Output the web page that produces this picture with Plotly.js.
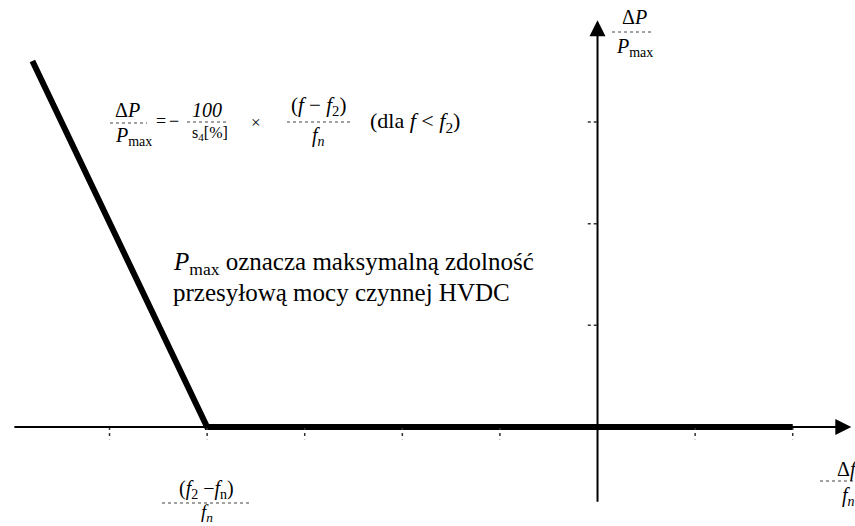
<!DOCTYPE html>
<html>
<head>
<meta charset="utf-8">
<script src="https://cdn.plot.ly/plotly-3.0.1.min.js"></script>
<style>
  html, body { margin: 0; padding: 0; background: #fff; }
  #chart { width: 855px; height: 526px; }
</style>
</head>
<body>
<div id="chart"></div>
<script>
// characteristic: dP/Pmax vs df/fn
var curveX = [-5.79, -4, 2];
var curveY = [3.6, 0, 0];

// axis extents (tail, tip)
var xAxisEnds = [-5.99, 2.6];
var yAxisEnds = [-0.75, 4.0];

// tick positions
var xTicks = [-5, -4, -3, -2, -1, 1, 2];
var yTicks = [1, 2, 3];

var W = 855, H = 526;
function px(x) { return x / W; }
function py(y) { return 1 - y / H; }

var serif = "'Liberation Serif', 'DejaVu Serif', serif";

var trace1 = {
  mode: 'lines',
  x: curveX, y: curveY,
  line: {color: '#000', width: 6},
  hoverinfo: 'skip'
};

var data = [trace1];

var shapes = [];
for (var i = 0; i < xTicks.length; i++) {
  shapes.push({type: 'line', xref: 'x', yref: 'y',
    x0: xTicks[i], x1: xTicks[i], y0: 0, y1: -0.12,
    line: {color: '#333', width: 1.5, dash: 'dot'}});
}
for (var i = 0; i < yTicks.length; i++) {
  shapes.push({type: 'line', xref: 'x', yref: 'y',
    x0: -0.1, x1: 0, y0: yTicks[i], y1: yTicks[i],
    line: {color: '#333', width: 1.5, dash: 'dot'}});
}

// fraction bars (pixel positions)
function bar(x0, x1, y) {
  shapes.push({type: 'line', xref: 'paper', yref: 'paper',
    x0: px(x0), x1: px(x1), y0: py(y), y1: py(y),
    line: {color: '#444', width: 1, dash: 'dot'}});
}
bar(110, 147, 123);
bar(187, 227, 122);
bar(287, 353, 122);
bar(612, 653, 32);
bar(162, 250, 503);
bar(820, 855, 481);

var annotations = [];
// axes with arrow heads
annotations.push({x: xAxisEnds[1], y: 0, ax: xAxisEnds[0], ay: 0,
  xref: 'x', yref: 'y', axref: 'x', ayref: 'y', text: '',
  showarrow: true, arrowhead: 2, arrowsize: 1.6, arrowwidth: 2, arrowcolor: '#000'});
annotations.push({x: 0, y: yAxisEnds[1], ax: 0, ay: yAxisEnds[0],
  xref: 'x', yref: 'y', axref: 'x', ayref: 'y', text: '',
  showarrow: true, arrowhead: 2, arrowsize: 1.6, arrowwidth: 2, arrowcolor: '#000'});

function label(text, x, y, size, xanchor) {
  annotations.push({text: text, xref: 'paper', yref: 'paper',
    x: px(x), y: py(y), xanchor: xanchor || 'center', yanchor: 'middle',
    showarrow: false, font: {family: serif, size: size, color: '#000'}});
}

// formula
label('Δ<i>P</i>', 127, 110, 20);
label('<i>P</i><sub>max</sub>', 133, 136, 20);
label('=', 161, 121, 18);
label('−', 174, 121, 18);
label('<i>100</i>', 207, 110, 20);
label('s<sub>4</sub>[%]', 210, 133, 16);
label('×', 256, 123, 17);
label('(<i>f</i> − <i>f</i><sub>2</sub>)', 318, 106, 21);
label('<i>f<sub>n</sub></i>', 318, 136, 20);
label('(dla <i>f</i> &lt; <i>f</i><sub>2</sub>)', 415, 122, 22);

// description (two lines, tight spacing)
label('<i>P</i><sub>max</sub> oznacza maksymalną zdolność', 171, 263, 25, 'left');
label('przesyłową mocy czynnej HVDC', 171, 292, 25, 'left');

// axis labels
label('Δ<i>P</i>', 634, 17, 20);
label('<i>P</i><sub>max</sub>', 634, 47, 20);
label('(<i>f</i><sub>2</sub> −<i>f</i><sub>n</sub>)', 206, 489, 20);
label('<i>f<sub>n</sub></i>', 207, 513, 19);
label('Δ<i>f</i>', 835, 469, 20, 'left');
label('<i>f<sub>n</sub></i>', 840, 496, 20, 'left');

var layout = {
  width: W, height: H,
  margin: {l: 0, r: 0, t: 0, b: 0},
  paper_bgcolor: '#fff', plot_bgcolor: '#fff',
  showlegend: false,
  xaxis: {range: [-6.122, 2.638], visible: false, fixedrange: true},
  yaxis: {range: [-0.973, 4.199], visible: false, fixedrange: true},
  shapes: shapes,
  annotations: annotations
};

Plotly.newPlot('chart', data, layout, {displayModeBar: false, staticPlot: true});
</script>
</body>
</html>
